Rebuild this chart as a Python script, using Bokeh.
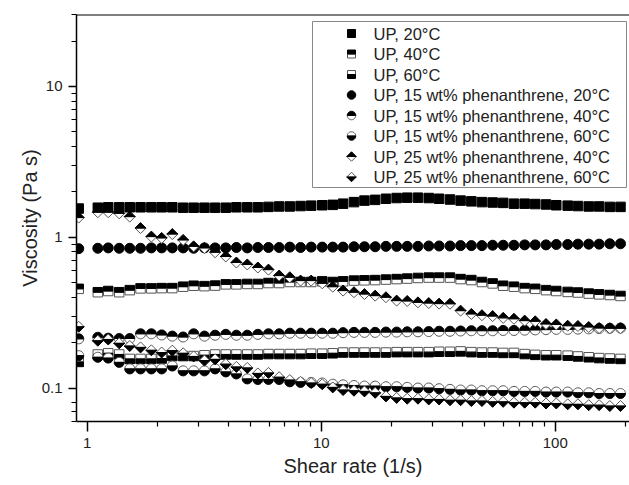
import math
from bokeh.plotting import figure
from bokeh.models import FixedTicker, CustomJSTickFormatter, Span, BoxAnnotation, Range1d
from bokeh.embed import file_html
from bokeh.resources import INLINE
from bokeh.core.properties import value

# ---------------- data ----------------
shear_rate = [0.92, 1.11, 1.23, 1.37, 1.52, 1.69, 1.88, 2.08, 2.31, 2.57, 2.85,
              3.17, 3.52, 3.91, 4.34, 4.83, 5.36, 5.95, 6.61, 7.34, 8.16, 9.06,
              10.1, 11.2, 12.4, 13.8, 15.3, 17.0, 18.9, 21.0, 23.3, 25.9, 28.8,
              31.9, 35.5, 39.4, 43.8, 48.6, 54.0, 59.9, 66.6, 74.0, 82.1, 91.3,
              101, 113, 125, 139, 154, 171, 190]

up_20 = [1.55,
         1.57, 1.58, 1.58, 1.58, 1.58, 1.58, 1.58, 1.58, 1.57, 1.57, 1.57, 1.57, 1.57, 1.58, 1.58, 1.58, 1.59,
         1.60, 1.60, 1.61, 1.62, 1.63,
         1.64, 1.67, 1.71, 1.75, 1.77, 1.80, 1.82, 1.83, 1.83, 1.82, 1.80, 1.78, 1.75, 1.73, 1.71, 1.70,
         1.69, 1.67, 1.67, 1.66, 1.65, 1.63, 1.62, 1.61, 1.60, 1.60, 1.59, 1.59]

up_40 = [0.455,
         0.432, 0.44, 0.432, 0.446, 0.458, 0.458, 0.46, 0.46, 0.47, 0.477, 0.474, 0.478, 0.487, 0.487,
         0.49, 0.49, 0.497, 0.497, 0.505, 0.505, 0.505, 0.51, 0.505,
         0.51, 0.516, 0.518, 0.52, 0.524, 0.528, 0.532, 0.537, 0.54, 0.54, 0.54, 0.528, 0.52, 0.505,
         0.494, 0.477, 0.47, 0.46, 0.455, 0.446, 0.44, 0.434, 0.43, 0.423, 0.418, 0.414, 0.408]

up_60 = [0.149,
         0.167, 0.17, 0.167, 0.156, 0.156, 0.156, 0.157, 0.163, 0.163, 0.163, 0.165, 0.167, 0.167, 0.167,
         0.167, 0.167, 0.168, 0.168, 0.168, 0.168, 0.169, 0.169, 0.17,
         0.172, 0.172, 0.172, 0.172, 0.172, 0.173, 0.173, 0.173, 0.173, 0.174, 0.174, 0.175, 0.173, 0.172,
         0.172, 0.171, 0.171, 0.168, 0.166, 0.165, 0.165, 0.164, 0.162, 0.16, 0.158, 0.157, 0.156]

phen15_20 = [0.84,
             0.845, 0.85, 0.845, 0.845, 0.845, 0.85, 0.85, 0.85, 0.85, 0.845, 0.85, 0.85, 0.85, 0.855,
             0.85, 0.855, 0.855, 0.855, 0.86, 0.855, 0.86, 0.86, 0.86,
             0.86, 0.865, 0.865, 0.865, 0.87, 0.87, 0.87, 0.87, 0.875, 0.875, 0.875, 0.88, 0.88, 0.88,
             0.885, 0.885, 0.885, 0.89, 0.89, 0.89, 0.895, 0.895, 0.9, 0.9, 0.9, 0.905, 0.905]

phen15_40 = [0.212,
             0.217, 0.214, 0.213, 0.213, 0.229, 0.229, 0.225, 0.221, 0.218, 0.229, 0.221, 0.224, 0.227,
             0.224, 0.224, 0.227, 0.229, 0.229, 0.231, 0.231, 0.231, 0.231, 0.231,
             0.233, 0.234, 0.234, 0.234, 0.235, 0.235, 0.236, 0.236, 0.237, 0.238, 0.238, 0.239, 0.24,
             0.24, 0.24, 0.241, 0.241, 0.242, 0.243, 0.244, 0.245, 0.245, 0.246, 0.247, 0.248, 0.249, 0.25]

phen15_60 = [0.164,
             0.16, 0.158, 0.148, 0.134, 0.134, 0.134, 0.134, 0.14, 0.13, 0.13, 0.13, 0.134, 0.128, 0.124,
             0.115, 0.114, 0.114, 0.114, 0.11, 0.109, 0.109, 0.108, 0.106,
             0.105, 0.104, 0.103, 0.103, 0.102, 0.102, 0.101, 0.1, 0.1, 0.099, 0.098, 0.097, 0.097, 0.096,
             0.096, 0.096, 0.095, 0.095, 0.095, 0.094, 0.094, 0.094, 0.093, 0.093, 0.092, 0.092, 0.092]

phen25_40 = [1.35,
             1.465, 1.465, 1.44, 1.37, 1.15, 1.01, 0.99, 1.05, 0.96, 0.87, 0.85, 0.795, 0.745, 0.68,
             0.66, 0.63, 0.61, 0.557, 0.543, 0.516, 0.516, 0.495, 0.47,
             0.443, 0.432, 0.42, 0.41, 0.4, 0.38, 0.378, 0.37, 0.366, 0.363, 0.362, 0.326, 0.31, 0.304,
             0.3, 0.292, 0.288, 0.28, 0.277, 0.266, 0.264, 0.259, 0.258, 0.254, 0.25, 0.249, 0.249]

phen25_60 = [0.255,
             0.206, 0.21, 0.198, 0.19, 0.186, 0.178, 0.172, 0.177, 0.17, 0.162, 0.152, 0.155, 0.144, 0.138,
             0.136, 0.125, 0.126, 0.118, 0.113, 0.11, 0.108, 0.106, 0.101,
             0.097, 0.096, 0.095, 0.093, 0.088, 0.086, 0.085, 0.085, 0.084, 0.084, 0.083, 0.083, 0.082,
             0.082, 0.081, 0.081, 0.08, 0.08, 0.08, 0.079, 0.079, 0.078, 0.078, 0.077, 0.077, 0.076, 0.076]

legend_labels = ["UP, 20°C", "UP, 40°C", "UP, 60°C",
                 "UP, 15 wt% phenanthrene, 20°C", "UP, 15 wt% phenanthrene, 40°C",
                 "UP, 15 wt% phenanthrene, 60°C", "UP, 25 wt% phenanthrene, 40°C",
                 "UP, 25 wt% phenanthrene, 60°C"]

x_major_ticks = [1, 10, 100]
x_minor_ticks = [2, 3, 4, 5, 6, 7, 8, 9, 20, 30, 40, 50, 60, 70, 80, 90, 200]
y_major_ticks = [0.1, 1, 10]
y_minor_ticks = [0.06, 0.07, 0.08, 0.2, 0.3, 0.4, 0.5, 0.6, 0.7, 0.8, 0.9,
                 2, 3, 4, 5, 6, 7, 8, 9, 20, 30]

# ---------------- layout ----------------
XMIN, XMAX = 0.9, 207.6
YMIN, YMAX = 0.06, 30.0
FRAME_L, FRAME_T, FRAME_W, FRAME_H = 76, 14, 553, 407
LX = math.log10(XMAX) - math.log10(XMIN)
LY = math.log10(YMAX) - math.log10(YMIN)

def fx(dpx):
    return 10 ** (dpx * LX / FRAME_W)

def fy(dpx):
    return 10 ** (dpx * LY / FRAME_H)

def xd(px):
    return XMIN * fx(px - FRAME_L)

def yd(py):
    return YMAX / fy(py - FRAME_T)

p = figure(frame_width=FRAME_W, frame_height=FRAME_H,
           x_axis_type="log", y_axis_type="log",
           x_range=Range1d(XMIN, XMAX), y_range=Range1d(YMIN, YMAX),
           output_backend="svg", toolbar_location=None,
           min_border_left=FRAME_L, min_border_right=0,
           min_border_top=FRAME_T, min_border_bottom=64)
p.outline_line_color = None
p.xgrid.visible = False
p.ygrid.visible = False
p.background_fill_color = "white"
p.border_fill_color = "white"

FONT = "Liberation Sans"
for ax in (p.xaxis[0], p.yaxis[0]):
    ax.axis_line_color = "black"
    ax.axis_line_width = 1.5
    ax.major_tick_line_color = "black"
    ax.major_tick_line_width = 1.5
    ax.major_tick_in = 0
    ax.minor_tick_line_color = "black"
    ax.minor_tick_line_width = 1.2
    ax.minor_tick_in = 0
    ax.minor_tick_out = 5
    ax.major_label_text_font = FONT
    ax.major_label_text_font_size = "15px"
    ax.major_label_text_color = "#222222"
    ax.major_label_standoff = 6
    ax.axis_label_text_font = FONT
    ax.axis_label_text_font_size = "20px"
    ax.axis_label_text_font_style = "normal"
    ax.axis_label_text_color = "#222222"
    ax.formatter = CustomJSTickFormatter(code="return tick.toString();")

p.xaxis[0].axis_label_standoff = 4
p.yaxis[0].axis_label_standoff = -2
p.xaxis[0].major_tick_out = 10
p.yaxis[0].major_tick_out = 8
p.xaxis[0].ticker = FixedTicker(ticks=x_major_ticks, minor_ticks=x_minor_ticks)
p.yaxis[0].ticker = FixedTicker(ticks=y_major_ticks, minor_ticks=y_minor_ticks)
p.xaxis[0].axis_label = "Shear rate (1/s)"
p.yaxis[0].axis_label = "Viscosity (Pa s)"

p.add_layout(Span(location=YMAX, dimension="width", line_color="black", line_width=2))

# ---------------- marker helpers ----------------
def half_shapes(shape, size):
    r = size / 2.0
    if shape == "square":
        top = [(-r, 0), (r, 0), (r, r), (-r, r)]
        bot = [(-r, 0), (r, 0), (r, -r), (-r, -r)]
    elif shape == "circle":
        n = 14
        top = [(r * math.cos(math.pi * i / n), r * math.sin(math.pi * i / n)) for i in range(n + 1)]
        bot = [(r * math.cos(math.pi + math.pi * i / n), r * math.sin(math.pi + math.pi * i / n)) for i in range(n + 1)]
    else:  # diamond
        top = [(-r, 0), (r, 0), (0, r)]
        bot = [(-r, 0), (r, 0), (0, -r)]
    return top, bot

def poly(xs, ys, offs):
    return ([[x * fx(dx) for dx, dy in offs] for x in xs],
            [[y * fy(dy) for dx, dy in offs] for y in ys])

def half_marker(xs, ys, shape, filled_top, size, level="glyph"):
    top, bot = half_shapes(shape, size)
    black, white = (top, bot) if filled_top else (bot, top)
    wx, wy = poly(xs, ys, white)
    bx, by = poly(xs, ys, black)
    p.patches(wx, wy, fill_color="white", line_color="#555555", line_width=1, level=level)
    p.patches(bx, by, fill_color="black", line_color="black", line_width=1, level=level)

def full_marker(xs, ys, shape, size, level="glyph"):
    p.scatter(xs, ys, marker=shape, size=size, fill_color="black", line_color="black",
              line_width=1, level=level)

series = [
    (up_20, "square", None, 9.5),
    (up_40, "square", True, 9.5),
    (up_60, "square", False, 9.5),
    (phen15_20, "circle", None, 10),
    (phen15_40, "circle", True, 10),
    (phen15_60, "circle", False, 10),
    (phen25_40, "diamond", True, 11),
    (phen25_60, "diamond", False, 11),
]

for vals, shape, top, size in series:
    if top is None:
        full_marker(shear_rate, vals, shape, size)
    else:
        half_marker(shear_rate, vals, shape, top, size)

# ---------------- legend ----------------
p.add_layout(BoxAnnotation(left=xd(312), right=xd(626), top=yd(21), bottom=yd(187),
                           fill_color="white", fill_alpha=1, line_color="#888888",
                           line_width=1, line_alpha=1))
row_y = [yd(33 + 20.5 * i) for i in range(len(legend_labels))]
mx = xd(351)
for (vals, shape, top, size), yy in zip(series, row_y):
    lsize = size - 1.5
    if top is None:
        full_marker([mx], [yy], shape, lsize, level="overlay")
    else:
        half_marker([mx], [yy], shape, top, lsize, level="overlay")
p.text(x=[xd(373)] * len(legend_labels), y=row_y, text=legend_labels,
       text_font=value(FONT), text_font_size="16.5px", text_baseline="middle",
       text_align="left", text_color="#222222", level="overlay")

open("out.html", "w").write(file_html(p, INLINE))
